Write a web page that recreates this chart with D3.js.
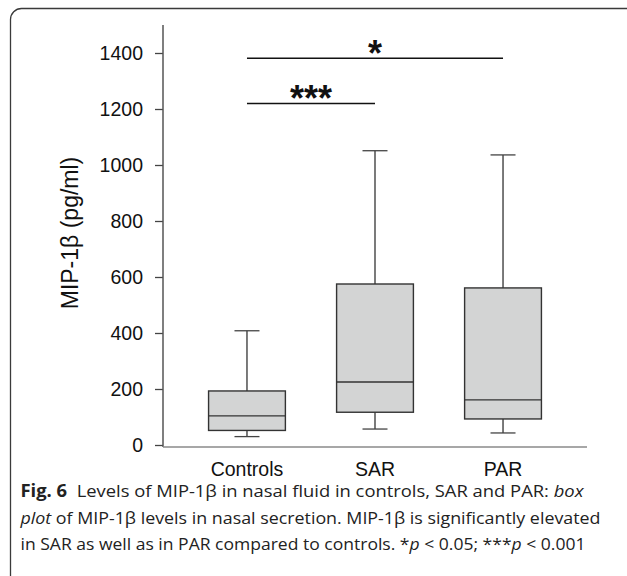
<!DOCTYPE html>
<html>
<head>
<meta charset="utf-8">
<script src="https://cdn.jsdelivr.net/npm/d3@7"></script>
<style>
  body { margin: 0; background: #fff; }
  svg { display: block; }
</style>
</head>
<body>
<script>
(function(){

//box plot values (pg/ml)
var categories = ["Controls", "SAR", "PAR"];
var whiskerLow = [30, 57, 43];
var q1 = [52, 117, 93];
var medians = [104, 225, 161];
var q3 = [193, 575, 561];
var whiskerHigh = [408, 1051, 1036];

//y axis ticks
var yTicks = [0, 200, 400, 600, 800, 1000, 1200, 1400];

//significance brackets
var sigFrom = ["Controls", "Controls"];
var sigTo = ["PAR", "SAR"];
var sigLevel = [1381, 1220];
var sigLabel = ["*", "***"];

//caption lines, each a list of [text, style]
var captionLines = [
    [["Fig. 6", "bold"], ["  Levels of MIP-1\u03b2 in nasal fluid in controls, SAR and PAR: ", ""], ["box", "italic"]],
    [["plot", "italic"], [" of MIP-1\u03b2 levels in nasal secretion. MIP-1\u03b2 is significantly elevated", ""]],
    [["in SAR as well as in PAR compared to controls. *", ""], ["p", "italic"], [" < 0.05; ***", ""], ["p", "italic"], [" < 0.001", ""]]
];
var captionWidths = [563, 580, 565];

window.onload = draw();

function draw(){
    var width = 627,
        height = 576;

    var svg = d3.select("body")
        .append("svg")
        .attr("width", width)
        .attr("height", height);

    //rounded frame, only top and left edges show
    svg.append("rect")
        .attr("x", 10.5)
        .attr("y", 8.5)
        .attr("width", 700)
        .attr("height", 620)
        .attr("rx", 11)
        .attr("fill", "none")
        .attr("stroke", "#3a3a3a")
        .attr("stroke-width", 1.3);

    var yScale = d3.scaleLinear()
        .domain([0, 1500])
        .range([445, 25]);

    var xScale = d3.scaleBand()
        .domain(categories)
        .range([163, 587])
        .paddingInner(0.4)
        .paddingOuter(0.356);

    var font = "Liberation Sans, Arial, sans-serif";

    //y axis
    var yAxis = d3.axisLeft(yScale)
        .tickValues(yTicks)
        .tickSize(8)
        .tickPadding(12)
        .tickFormat(d3.format("d"));

    var yg = svg.append("g")
        .attr("transform", "translate(163,0)")
        .call(yAxis);
    yg.select(".domain").remove();
    yg.selectAll(".tick line").attr("stroke", "#444").attr("stroke-width", 1.3);
    yg.selectAll(".tick text")
        .attr("fill", "#111")
        .style("font-family", font)
        .style("font-size", "19.5px");

    svg.append("line")
        .attr("x1", 163).attr("x2", 163)
        .attr("y1", yScale(1500)).attr("y2", 447)
        .attr("stroke", "#555")
        .attr("stroke-width", 1.5);

    //x axis line
    svg.append("line")
        .attr("x1", 163).attr("x2", 587)
        .attr("y1", 447).attr("y2", 447)
        .attr("stroke", "#8a8a8a")
        .attr("stroke-width", 1.6);

    //category labels
    svg.selectAll(".xlabel")
        .data(categories)
        .enter()
        .append("text")
        .attr("class", "xlabel")
        .attr("x", function(d){ return xScale(d) + xScale.bandwidth() / 2; })
        .attr("y", 476)
        .attr("text-anchor", "middle")
        .attr("fill", "#111")
        .style("font-family", font)
        .style("font-size", "19.5px")
        .text(function(d){ return d; });

    //y axis title
    svg.append("text")
        .attr("transform", "translate(78,233) rotate(-90)")
        .attr("text-anchor", "middle")
        .attr("fill", "#111")
        .style("font-family", font)
        .style("font-size", "23px")
        .text("MIP-1\u03b2 (pg/ml)");

    var bw = xScale.bandwidth(),
        capW = 25;

    var boxes = svg.selectAll(".box")
        .data(categories)
        .enter()
        .append("g")
        .attr("class", "box");

    //whiskers
    boxes.append("line")
        .attr("x1", function(d){ return xScale(d) + bw / 2; })
        .attr("x2", function(d){ return xScale(d) + bw / 2; })
        .attr("y1", function(d, i){ return yScale(whiskerHigh[i]); })
        .attr("y2", function(d, i){ return yScale(q3[i]); })
        .attr("stroke", "#222").attr("stroke-width", 1.2);
    boxes.append("line")
        .attr("x1", function(d){ return xScale(d) + bw / 2; })
        .attr("x2", function(d){ return xScale(d) + bw / 2; })
        .attr("y1", function(d, i){ return yScale(q1[i]); })
        .attr("y2", function(d, i){ return yScale(whiskerLow[i]); })
        .attr("stroke", "#222").attr("stroke-width", 1.2);

    //whisker caps
    boxes.append("line")
        .attr("x1", function(d){ return xScale(d) + bw / 2 - capW / 2; })
        .attr("x2", function(d){ return xScale(d) + bw / 2 + capW / 2; })
        .attr("y1", function(d, i){ return yScale(whiskerHigh[i]); })
        .attr("y2", function(d, i){ return yScale(whiskerHigh[i]); })
        .attr("stroke", "#444").attr("stroke-width", 1.3);
    boxes.append("line")
        .attr("x1", function(d){ return xScale(d) + bw / 2 - capW / 2; })
        .attr("x2", function(d){ return xScale(d) + bw / 2 + capW / 2; })
        .attr("y1", function(d, i){ return yScale(whiskerLow[i]); })
        .attr("y2", function(d, i){ return yScale(whiskerLow[i]); })
        .attr("stroke", "#444").attr("stroke-width", 1.3);

    //boxes
    boxes.append("rect")
        .attr("x", function(d){ return xScale(d); })
        .attr("width", bw)
        .attr("y", function(d, i){ return yScale(q3[i]); })
        .attr("height", function(d, i){ return yScale(q1[i]) - yScale(q3[i]); })
        .attr("fill", "#d3d4d4")
        .attr("stroke", "#333")
        .attr("stroke-width", 1.4);

    //medians
    boxes.append("line")
        .attr("x1", function(d){ return xScale(d); })
        .attr("x2", function(d){ return xScale(d) + bw; })
        .attr("y1", function(d, i){ return yScale(medians[i]); })
        .attr("y2", function(d, i){ return yScale(medians[i]); })
        .attr("stroke", "#333").attr("stroke-width", 1.4);

    //significance bars
    var center = function(c){ return xScale(c) + bw / 2; };
    sigLevel.forEach(function(lv, i){
        svg.append("line")
            .attr("x1", center(sigFrom[i]))
            .attr("x2", center(sigTo[i]))
            .attr("y1", yScale(lv)).attr("y2", yScale(lv))
            .attr("stroke", "#111").attr("stroke-width", 1.5);
        svg.append("text")
            .attr("x", (center(sigFrom[i]) + center(sigTo[i])) / 2)
            .attr("y", yScale(lv) + 8)
            .attr("text-anchor", "middle")
            .attr("fill", "#111")
            .style("font-family", font)
            .style("font-weight", "bold")
            .style("font-size", "36px")
            .text(sigLabel[i]);
    });

    //caption
    var cap = svg.append("g")
        .style("font-family", "Open Sans, Noto Sans, sans-serif")
        .style("font-size", "17px")
        .attr("fill", "#222");

    captionLines.forEach(function(parts, i){
        var t = cap.append("text")
            .attr("x", 20.5)
            .attr("y", 497 + i * 26.5)
            .attr("textLength", captionWidths[i])
            .attr("lengthAdjust", "spacingAndGlyphs")
            .style("white-space", "pre");
        parts.forEach(function(p){
            var s = t.append("tspan").text(p[0]);
            if (p[1] == "bold") s.style("font-weight", "bold");
            if (p[1] == "italic") s.style("font-style", "italic");
        });
    });
};

})();
</script>
</body>
</html>
